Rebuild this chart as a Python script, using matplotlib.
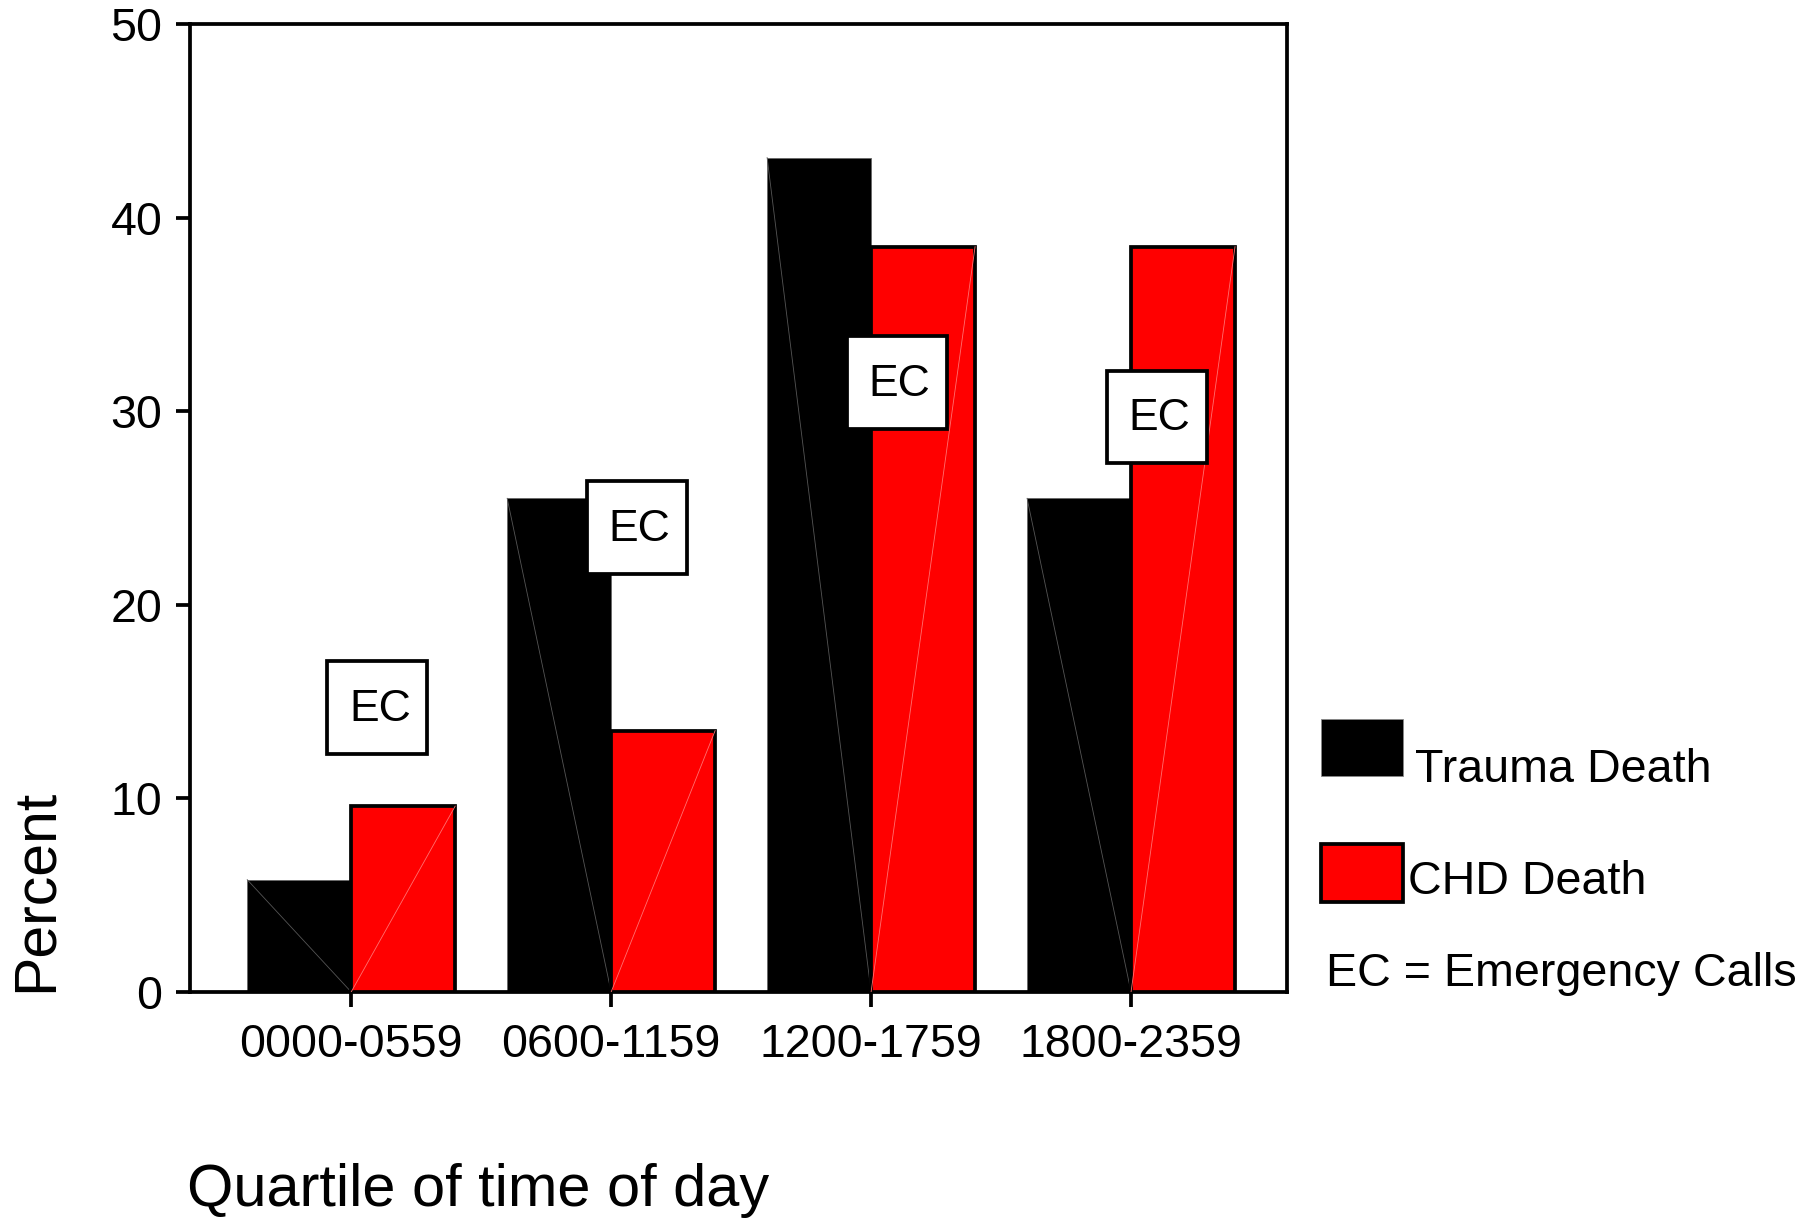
import numpy as np
import matplotlib
matplotlib.use("Agg")
import matplotlib.pyplot as plt
from matplotlib.patches import Rectangle

plt.rcParams["font.family"] = ["Liberation Sans", "DejaVu Sans"]

# === Data ===
quartiles = ["0000-0559", "0600-1159", "1200-1759", "1800-2359"]
trauma_death = [5.8, 25.5, 43.1, 25.5]
chd_death = [9.6, 13.5, 38.5, 38.5]
emergency_calls = [14.7, 24.0, 31.5, 29.7]

x = np.arange(len(quartiles))
bar_w = 0.4
ec_offset = 0.1
ec_box_w, ec_box_h = 0.385, 4.8
lw = 2.7

fig = plt.figure(figsize=(18.15, 12.26), dpi=100)
ax = fig.add_axes([0.1047, 0.1909, 0.6044, 0.7895])

# --- bars ---
ax.bar(x - bar_w / 2, trauma_death, width=bar_w, color="black",
       edgecolor="#666666", linewidth=0.6, zorder=2)
ax.bar(x + bar_w / 2, chd_death, width=bar_w, color="#ff0000",
       edgecolor="black", linewidth=lw, zorder=3)

# faint diagonal artefacts seen in the original rendering
for xi, t, c in zip(x, trauma_death, chd_death):
    ax.plot([xi - bar_w, xi], [t, 0], color="#555555", lw=0.6, zorder=2.5)
    ax.plot([xi, xi + bar_w], [0, c], color="#ff7070", lw=0.6, zorder=3.5)

# --- EC markers ---
for xi, ec in zip(x, emergency_calls):
    cx = xi + ec_offset
    ax.add_patch(Rectangle((cx - ec_box_w / 2, ec - ec_box_h / 2), ec_box_w, ec_box_h,
                           facecolor="white", edgecolor="black", linewidth=lw, zorder=5))
    ax.text(cx + 0.01, ec - 0.1, "EC", ha="center", va="center", fontsize=32, zorder=6)

# --- axes styling ---
ax.set_xlim(-0.62, 3.6)
ax.set_ylim(0, 50)
ax.set_yticks([0, 10, 20, 30, 40, 50])
ax.set_xticks(x)
ax.set_xticklabels(quartiles)
for s in ax.spines.values():
    s.set_linewidth(lw)
ax.tick_params(axis="y", length=10, width=lw, pad=10, labelsize=33.5)
ax.tick_params(axis="x", length=11, width=lw, pad=11, labelsize=33.5)

# --- axis titles ---
fig.text(187 / 1815, 1 - 1191 / 1226, "Quartile of time of day", ha="left", va="center", fontsize=42.8)
fig.text(36 / 1815, 1 - 992 / 1226, "Percent", rotation=90, ha="center", va="bottom", fontsize=42.5)

# --- legend (drawn by hand to match the layout) ---
def fy(py):
    return 1 - py / 1226

fig.patches.append(Rectangle((1321 / 1815, fy(776)), 82 / 1815, 57 / 1226,
                             transform=fig.transFigure, facecolor="black",
                             edgecolor="#888888", linewidth=0.6))
fig.patches.append(Rectangle((1321 / 1815, fy(902)), 82 / 1815, 58 / 1226,
                             transform=fig.transFigure, facecolor="#ff0000",
                             edgecolor="black", linewidth=lw))
fig.text(1415 / 1815, fy(782), "Trauma Death", ha="left", va="baseline", fontsize=33.6)
fig.text(1408 / 1815, fy(894), "CHD Death", ha="left", va="baseline", fontsize=33.6)
fig.text(1326 / 1815, fy(986), "EC = Emergency Calls", ha="left", va="baseline", fontsize=33.6)

fig.savefig("out.png", dpi=100, facecolor="white")
